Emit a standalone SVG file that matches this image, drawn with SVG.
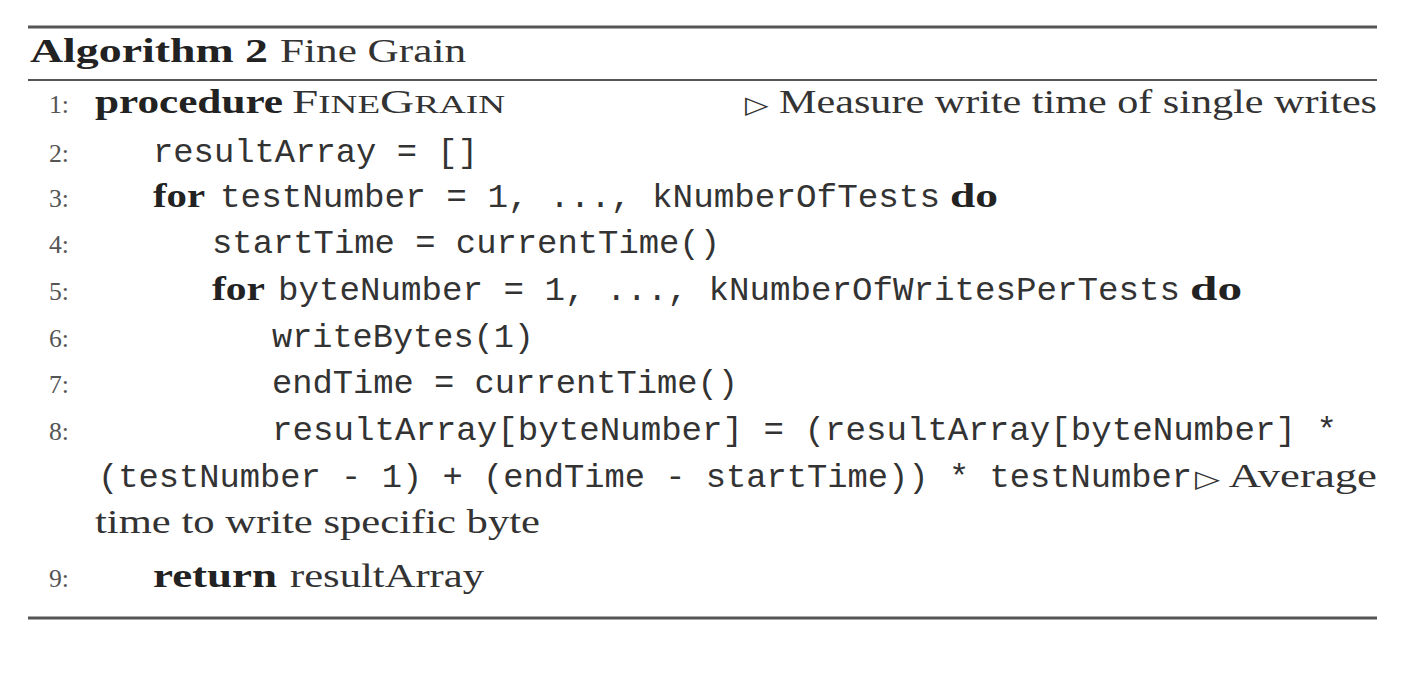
<svg xmlns="http://www.w3.org/2000/svg" width="1418" height="682" viewBox="0 0 1418 682">
<style>
.rule{stroke:#555;fill:none}
.rm{font-family:"Liberation Serif","DejaVu Serif",serif;font-size:33px;fill:#333}
.bf{font-family:"Liberation Serif","DejaVu Serif",serif;font-size:33px;font-weight:bold;fill:#222}
.tt{font-family:"Liberation Mono","DejaVu Sans Mono",monospace;font-size:33px;fill:#333}
.ln{font-family:"Liberation Serif","DejaVu Serif",serif;font-size:26px;fill:#555}
.sc{font-size:26px}
.tri{font-size:24px}
</style>
<rect width="1418" height="682" fill="#ffffff"/>
<line class="rule" x1="28" y1="27" x2="1377" y2="27" stroke-width="3"/>
<line class="rule" x1="28" y1="80" x2="1377" y2="80" stroke-width="2"/>
<line class="rule" x1="28" y1="618" x2="1377" y2="618" stroke-width="3"/>

<text class="bf" x="30" y="62" textLength="238" lengthAdjust="spacingAndGlyphs">Algorithm 2</text>
<text class="rm" x="280" y="62" textLength="186" lengthAdjust="spacingAndGlyphs">Fine Grain</text>

<g id="line1">
<text class="ln" x="49" y="113" textLength="20" lengthAdjust="spacingAndGlyphs">1:</text>
<text class="bf" x="95" y="113" textLength="188" lengthAdjust="spacingAndGlyphs">procedure</text>
<text class="rm" x="292" y="113" textLength="213" lengthAdjust="spacingAndGlyphs">F<tspan class="sc">INE</tspan>G<tspan class="sc">RAIN</tspan></text>
<text class="rm" x="745" y="113" textLength="632" lengthAdjust="spacingAndGlyphs"><tspan class="tri">▷</tspan> Measure write time of single writes</text>
</g>
<g id="line2">
<text class="ln" x="49" y="162" textLength="20" lengthAdjust="spacingAndGlyphs">2:</text>
<text class="tt" x="153" y="162" textLength="325" lengthAdjust="spacingAndGlyphs">resultArray = []</text>
</g>
<g id="line3">
<text class="ln" x="49" y="207" textLength="20" lengthAdjust="spacingAndGlyphs">3:</text>
<text class="bf" x="153" y="207" textLength="52" lengthAdjust="spacingAndGlyphs">for</text>
<text class="tt" x="220" y="207" textLength="720" lengthAdjust="spacingAndGlyphs">testNumber = 1, ..., kNumberOfTests</text>
<text class="bf" x="950" y="207" textLength="48" lengthAdjust="spacingAndGlyphs">do</text>
</g>
<g id="line4">
<text class="ln" x="49" y="253" textLength="20" lengthAdjust="spacingAndGlyphs">4:</text>
<text class="tt" x="212" y="253" textLength="508" lengthAdjust="spacingAndGlyphs">startTime = currentTime()</text>
</g>
<g id="line5">
<text class="ln" x="49" y="300" textLength="20" lengthAdjust="spacingAndGlyphs">5:</text>
<text class="bf" x="212" y="300" textLength="53" lengthAdjust="spacingAndGlyphs">for</text>
<text class="tt" x="278" y="300" textLength="902" lengthAdjust="spacingAndGlyphs">byteNumber = 1, ..., kNumberOfWritesPerTests</text>
<text class="bf" x="1190" y="300" textLength="52" lengthAdjust="spacingAndGlyphs">do</text>
</g>
<g id="line6">
<text class="ln" x="49" y="347" textLength="20" lengthAdjust="spacingAndGlyphs">6:</text>
<text class="tt" x="272" y="347" textLength="262" lengthAdjust="spacingAndGlyphs">writeBytes(1)</text>
</g>
<g id="line7">
<text class="ln" x="49" y="393" textLength="20" lengthAdjust="spacingAndGlyphs">7:</text>
<text class="tt" x="272" y="393" textLength="466" lengthAdjust="spacingAndGlyphs">endTime = currentTime()</text>
</g>
<g id="line8">
<text class="ln" x="49" y="440" textLength="20" lengthAdjust="spacingAndGlyphs">8:</text>
<text class="tt" x="272" y="440" textLength="1065" lengthAdjust="spacingAndGlyphs">resultArray[byteNumber] = (resultArray[byteNumber] *</text>
<text class="tt" x="98" y="487" textLength="1094" lengthAdjust="spacingAndGlyphs">(testNumber - 1) + (endTime - startTime)) * testNumber</text>
<text class="rm" x="1195" y="487" textLength="182" lengthAdjust="spacingAndGlyphs"><tspan class="tri">▷</tspan> Average</text>
<text class="rm" x="95" y="533" textLength="445" lengthAdjust="spacingAndGlyphs">time to write specific byte</text>
</g>
<g id="line9">
<text class="ln" x="49" y="587" textLength="20" lengthAdjust="spacingAndGlyphs">9:</text>
<text class="bf" x="153" y="587" textLength="124" lengthAdjust="spacingAndGlyphs">return</text>
<text class="rm" x="290" y="587" textLength="194" lengthAdjust="spacingAndGlyphs">resultArray</text>
</g>
</svg>
